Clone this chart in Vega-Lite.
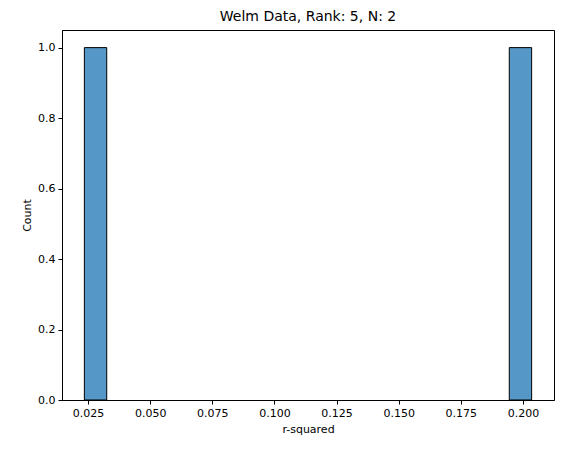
{
  "$schema": "https://vega.github.io/schema/vega-lite/v6.json",
  "width": 492,
  "height": 370,
  "autosize": {"type": "none"},
  "padding": {"left": 62, "top": 30, "right": 13, "bottom": 53},
  "background": "white",
  "title": {"text": "Welm Data, Rank: 5, N: 2", "font": "DejaVu Sans", "fontSize": 14, "fontWeight": "normal", "offset": 6},
  "data": {"values": [
    {"start": 0.0235, "end": 0.0325, "count": 1},
    {"start": 0.1945, "end": 0.2035, "count": 1}
  ]},
  "mark": {"type": "rect", "fill": "#5597c6", "stroke": "black", "strokeWidth": 1},
  "encoding": {
    "x": {"field": "start", "type": "quantitative", "scale": {"domain": [0.0145, 0.2125], "nice": false, "zero": false},
      "axis": {"title": "r-squared", "values": [0.025,0.05,0.075,0.1,0.125,0.15,0.175,0.2], "format": ".3f", "grid": false}},
    "x2": {"field": "end"},
    "y": {"field": "count", "type": "quantitative", "scale": {"domain": [0, 1.05], "nice": false},
      "axis": {"title": "Count", "values": [0,0.2,0.4,0.6,0.8,1.0], "format": ".1f", "grid": false}},
    "y2": {"datum": 0}
  },
  "config": {
    "view": {"stroke": "black", "strokeWidth": 1},
    "axis": {"labelFont": "DejaVu Sans", "titleFont": "DejaVu Sans", "labelFontSize": 11, "titleFontSize": 11, "titleFontWeight": "normal", "domainColor": "black", "tickColor": "black", "labelColor": "black", "titleColor": "black", "tickSize": 4, "labelPadding": 3, "titlePadding": 5}
  }
}
